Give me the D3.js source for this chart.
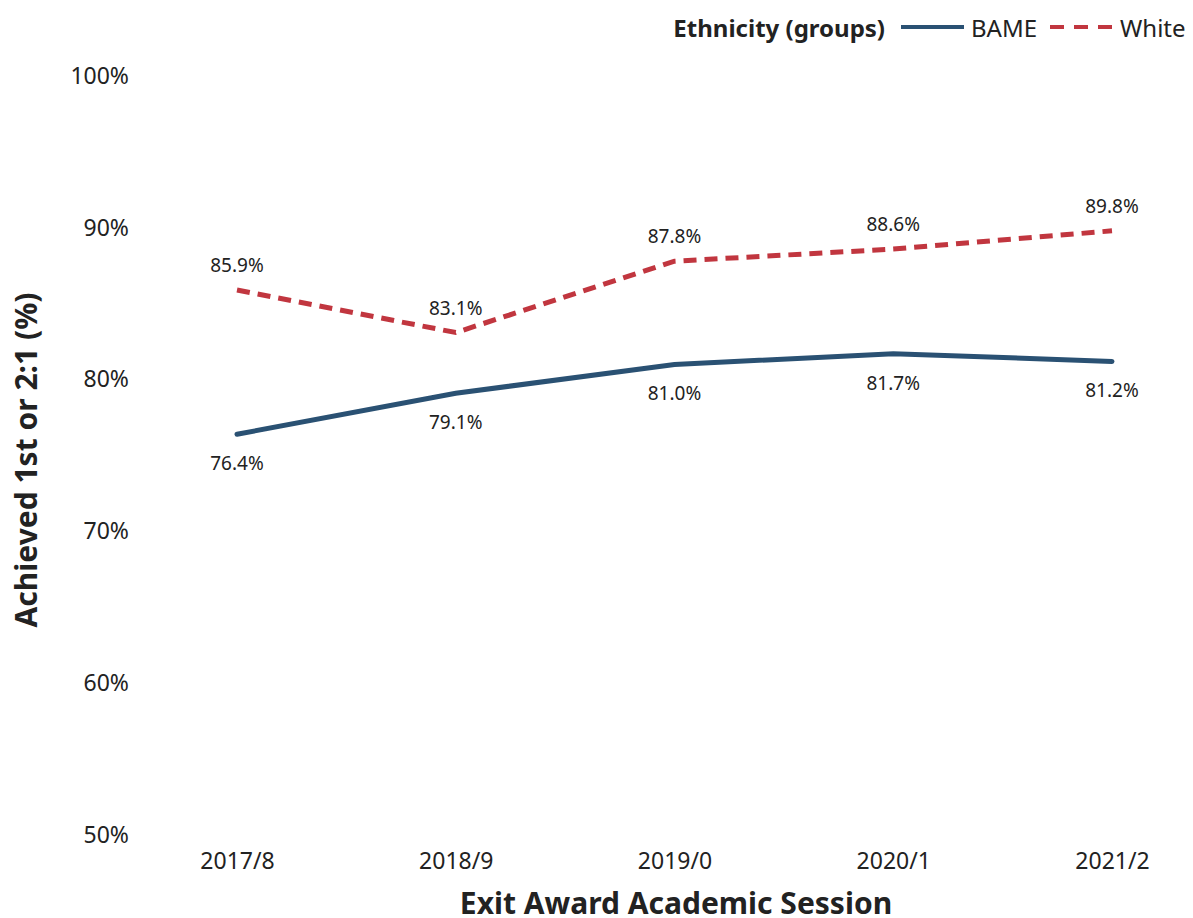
<!DOCTYPE html>
<html>
<head>
<meta charset="utf-8">
<script src="https://d3js.org/d3.v7.min.js"></script>
<style>
  body { margin: 0; background: #fff; }
  text { font-family: "Noto Sans", "Open Sans", sans-serif; fill: #222; }
</style>
</head>
<body>
<svg id="chart" width="1193" height="918"></svg>
<script>
// data
var sessions = ["2017/8", "2018/9", "2019/0", "2020/1", "2021/2"];
var bame = [76.4, 79.1, 81.0, 81.7, 81.2];
var white = [85.9, 83.1, 87.8, 88.6, 89.8];
var yTicks = [50, 60, 70, 80, 90, 100];

var svg = d3.select("#chart");

var x = d3.scalePoint().domain(sessions).range([237, 1112]);
var y = d3.scaleLinear().domain([50, 100]).range([835, 76]);

// y axis labels (no line)
var yAxis = svg.append("g").attr("transform", "translate(129,0)")
  .call(d3.axisLeft(y).tickValues(yTicks).tickSize(0).tickPadding(0).tickFormat(function(d) { return d + "%"; }));
yAxis.select(".domain").remove();
yAxis.selectAll("text").style("font-size", "23px").attr("fill", "#222");

// x axis labels
var xAxis = svg.append("g").attr("transform", "translate(0,853)")
  .call(d3.axisBottom(x).tickSize(0).tickPadding(0));
xAxis.select(".domain").remove();
xAxis.selectAll("text").style("font-size", "23px").attr("fill", "#222");

// titles
svg.append("text")
  .attr("x", 676).attr("y", 914)
  .attr("text-anchor", "middle")
  .style("font-size", "30px").style("font-weight", "bold")
  .attr("fill", "#111")
  .text("Exit Award Academic Session");

svg.append("text")
  .attr("transform", "translate(37,460) rotate(-90)")
  .attr("text-anchor", "middle")
  .style("font-size", "30px").style("font-weight", "bold")
  .attr("fill", "#3a3f45")
  .text("Achieved 1st or 2:1 (%)");

var line = d3.line().x(function(d, i) { return x(sessions[i]); }).y(function(d) { return y(d); });

svg.append("path").datum(bame)
  .attr("d", line).attr("fill", "none")
  .attr("stroke", "#2a5173").attr("stroke-width", 5).attr("stroke-linecap", "round");

svg.append("path").datum(white)
  .attr("d", line).attr("fill", "none")
  .attr("stroke", "#c1363f").attr("stroke-width", 5)
  .attr("stroke-dasharray", "13,8");

// data labels
svg.selectAll(".lbl-white").data(white).enter().append("text")
  .attr("x", function(d, i) { return x(sessions[i]); })
  .attr("y", function(d) { return y(d) - 18; })
  .attr("text-anchor", "middle").style("font-size", "19px")
  .text(function(d) { return d.toFixed(1) + "%"; });

svg.selectAll(".lbl-bame").data(bame).enter().append("text")
  .attr("x", function(d, i) { return x(sessions[i]); })
  .attr("y", function(d) { return y(d) + 36; })
  .attr("text-anchor", "middle").style("font-size", "19px")
  .text(function(d) { return d.toFixed(1) + "%"; });

// legend
var lg = svg.append("g");
lg.append("text").attr("x", 885).attr("y", 37).attr("text-anchor", "end")
  .style("font-size", "24px").style("font-weight", "bold").attr("fill", "#111")
  .text("Ethnicity (groups)");
lg.append("line").attr("x1", 901).attr("x2", 964).attr("y1", 27).attr("y2", 27)
  .attr("stroke", "#2a5173").attr("stroke-width", 4);
lg.append("text").attr("x", 971).attr("y", 37).style("font-size", "24px").text("BAME");
lg.append("line").attr("x1", 1050).attr("x2", 1113).attr("y1", 27).attr("y2", 27)
  .attr("stroke", "#c1363f").attr("stroke-width", 4).attr("stroke-dasharray", "14,10");
lg.append("text").attr("x", 1120).attr("y", 37).style("font-size", "24px").text("White");
</script>
</body>
</html>
